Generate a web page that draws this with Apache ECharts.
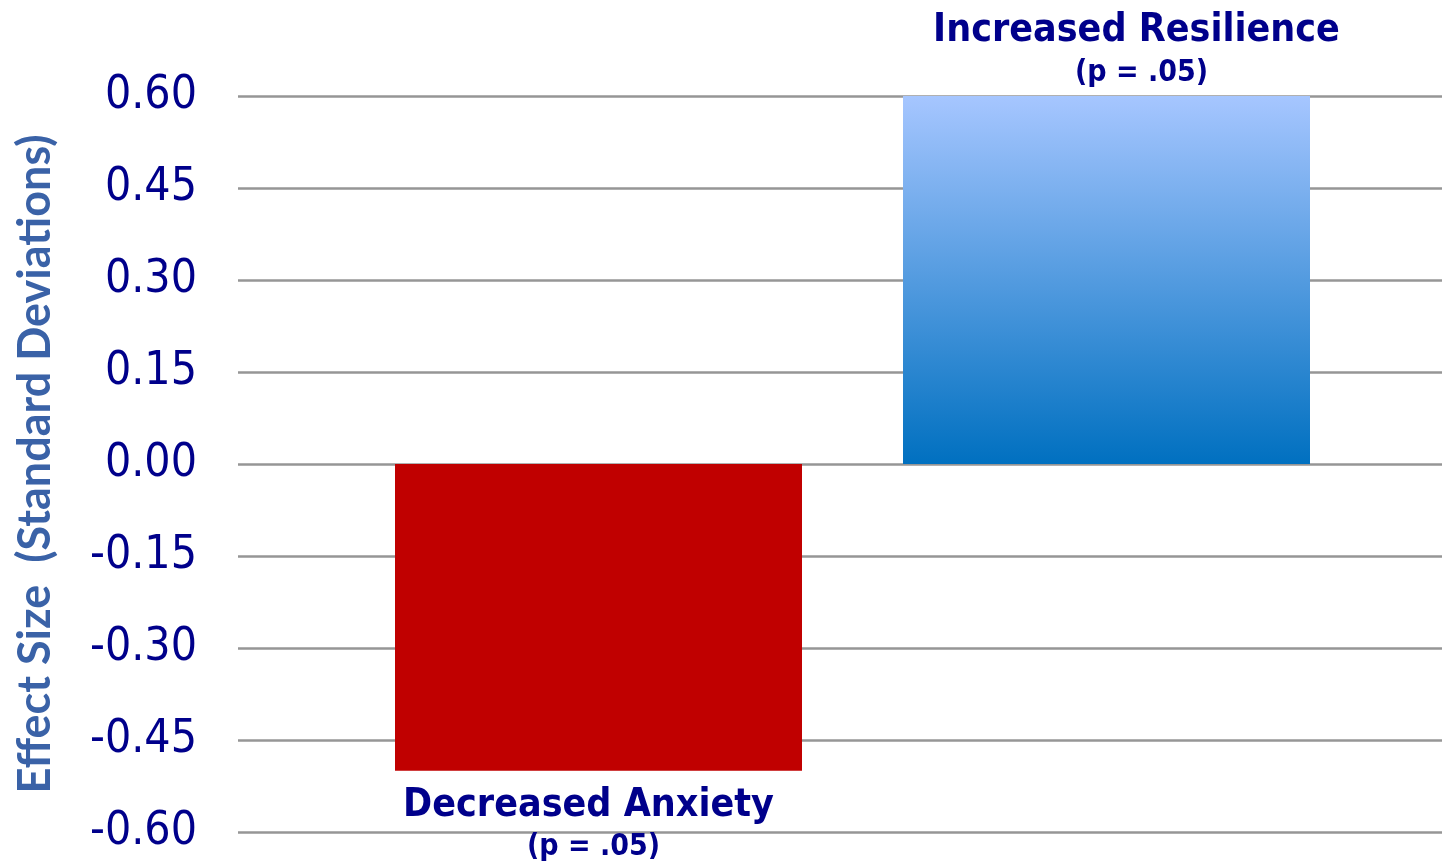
<!DOCTYPE html>
<html>
<head>
<meta charset="utf-8">
<script src="https://cdn.jsdelivr.net/npm/echarts@6/dist/echarts.min.js"></script>
<style>
  html, body { margin: 0; padding: 0; background: #ffffff; }
  #chart { width: 1442px; height: 862px; }
</style>
</head>
<body>
<div id="chart"></div>
<script>
// Outcome categories and effect sizes (standard deviations)
const categories = ['Decreased Anxiety', 'Increased Resilience'];
const effectSizes = [-0.50, 0.60];
const pValueLabels = ['(p = .05)', '(p = .05)'];

// Value axis range and tick step
const axisMin = -0.60;
const axisMax = 0.60;
const axisStep = 0.15;

const navy = '#00008B';
const titleBlue = '#3A62A7';

const blueGradient = new echarts.graphic.LinearGradient(0, 0, 0, 1, [
  { offset: 0, color: '#A6C6FF' },
  { offset: 1, color: '#0070C0' }
]);

const barColors = ['#C00000', blueGradient];
const labelOffsets = [[-10, 0], [30, 0]];

const seriesData = effectSizes.map((v, i) => ({
  value: v,
  itemStyle: { color: barColors[i] },
  label: {
    position: v < 0 ? 'bottom' : 'top',
    distance: v < 0 ? 13 : 3,
    offset: labelOffsets[i]
  }
}));

const chart = echarts.init(document.getElementById('chart'), null, { renderer: 'canvas' });

chart.setOption({
  animation: false,
  backgroundColor: '#ffffff',
  grid: [
    { left: 238, right: 0, top: 96, bottom: 30, containLabel: false },
    { left: 344.5, right: 81.5, top: 96, bottom: 30, containLabel: false }
  ],
  xAxis: [
    { type: 'category', gridIndex: 0, data: categories, show: false },
    { type: 'category', gridIndex: 1, data: categories, show: false }
  ],
  yAxis: [
    {
      type: 'value',
      gridIndex: 0,
      min: axisMin,
      max: axisMax,
      interval: axisStep,
      name: 'Effect Size  (Standard Deviations)',
      nameLocation: 'middle',
      nameGap: 180,
      nameTextStyle: {
        color: titleBlue,
        fontFamily: 'Lato',
        fontWeight: 'bold',
        fontSize: 45
      },
      axisLine: { show: false },
      axisTick: { show: false },
      axisLabel: {
        color: navy,
        fontFamily: 'DejaVu Sans Condensed',
        fontSize: 46,
        margin: 41,
        formatter: v => v.toFixed(2)
      },
      splitLine: { lineStyle: { color: '#969696', width: 2.5 } }
    },
    {
      type: 'value',
      gridIndex: 1,
      min: axisMin,
      max: axisMax,
      interval: axisStep,
      show: false,
      splitLine: { show: false }
    }
  ],
  series: [
    {
      type: 'bar',
      xAxisIndex: 1,
      yAxisIndex: 1,
      barWidth: 407,
      data: seriesData,
      z: 3,
      label: {
        show: true,
        formatter: p => '{n|' + categories[p.dataIndex] + '}\n{p|' + pValueLabels[p.dataIndex] + '}',
        rich: {
          n: {
            color: navy,
            fontFamily: 'DejaVu Sans Condensed',
            fontWeight: 'bold',
            fontSize: 39,
            lineHeight: 44,
            align: 'center'
          },
          p: {
            color: navy,
            fontFamily: 'DejaVu Sans Condensed',
            fontWeight: 'bold',
            fontSize: 30,
            lineHeight: 40,
            align: 'center',
            padding: [0, 0, 0, 10]
          }
        }
      }
    }
  ]
});
</script>
</body>
</html>
